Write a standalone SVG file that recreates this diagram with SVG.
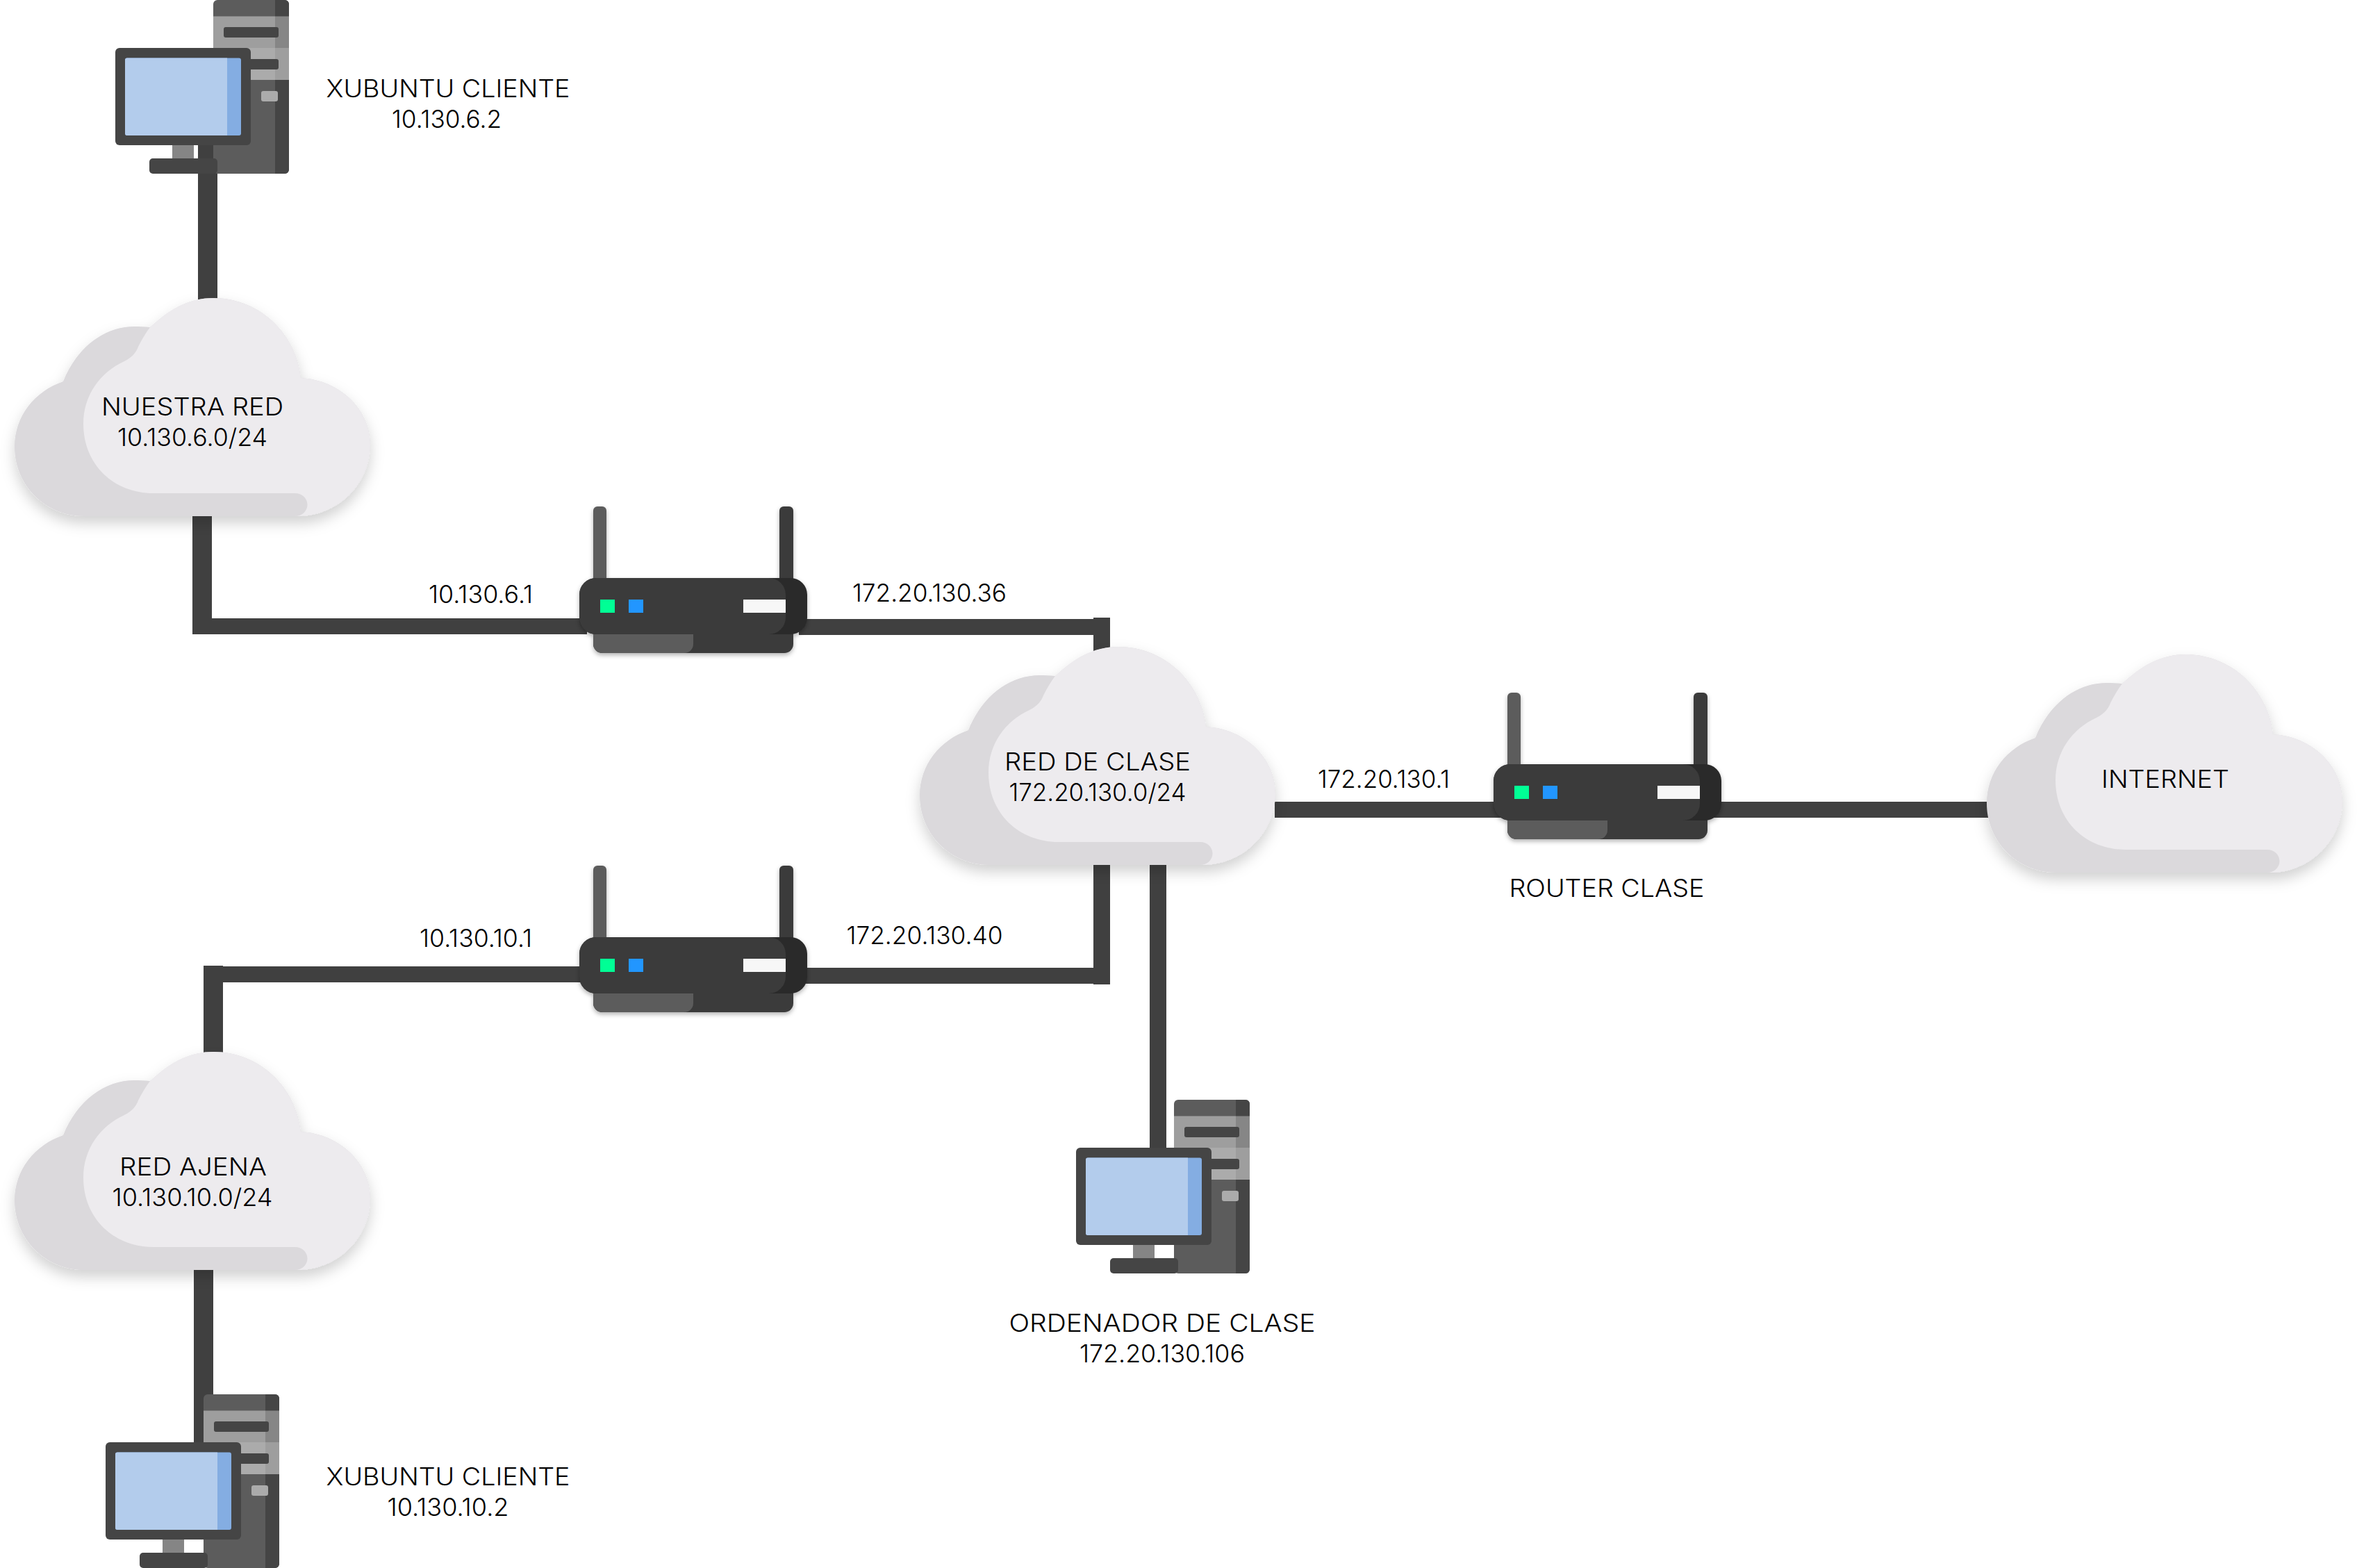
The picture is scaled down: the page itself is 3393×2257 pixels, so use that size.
<svg xmlns="http://www.w3.org/2000/svg" width="3393" height="2257" viewBox="0 0 3393 2257">
<style>
text{font-family:"Inter","Noto Sans","Liberation Sans",sans-serif;font-size:35px;font-weight:300;fill:#000;text-anchor:middle}
.ln{fill:#404040}
</style>
<defs>
<filter id="cs" x="-10%" y="-10%" width="120%" height="130%"><feDropShadow dx="0" dy="10" stdDeviation="10" flood-color="#000" flood-opacity=".18"/></filter>
<filter id="rs" x="-5%" y="-5%" width="110%" height="115%"><feDropShadow dx="0" dy="3" stdDeviation="3" flood-color="#000" flood-opacity=".3"/></filter>
<g id="cloud" filter="url(#cs)">
<path fill="#dbd9dc" d="M100,314 C45,314 0,270 0,214 C0,170 29,134 70,120 C90,70 130,41 172,41 C180,41 188,41 195,42 C222,18 250,0 286,0 C352,0 405,50 412,115 C468,118 512,160 512,211 C512,268 465,314 408,314 Z"/>
<path fill="#edebee" d="M195,42 C222,16 250,0 286,0 C352,0 405,50 412,115 C468,118 512,160 512,211 C512,268 465,314 408,314 H404 A17.5,16.500 0 0 0 404,281 H200 C143,281 99,240 99,181 C99,140 123,107 158,91 C170,85 175,78 178,70 C183,60 189,50 195,42 Z"/>
</g>
<g id="router" filter="url(#rs)">
<rect x="20" y="0" width="19" height="125" rx="6" fill="#5c5c5c"/>
<rect x="288" y="0" width="20" height="125" rx="6" fill="#3a3a3a"/>
<rect x="20" y="170" width="288" height="41" rx="13" fill="#3a3a3a"/>
<path fill="#5c5c5c" d="M20,170 H164 V198 A13,13 0 0 1 151,211 H33 A13,13 0 0 1 20,198 Z"/>
<rect x="0" y="103" width="328" height="81" rx="24" fill="#2a2a2a"/>
<rect x="0" y="103" width="297" height="81" rx="24" fill="#3a3a3a"/>
<rect x="30" y="134" width="21" height="19" fill="#00ff95"/>
<rect x="71" y="134" width="21" height="19" fill="#2196ff"/>
<rect x="236" y="134" width="61" height="19" fill="#f7f7f7"/>
</g>
<g id="pc">
<rect x="141" y="0" width="109" height="250" rx="6" fill="#5c5c5c"/>
<path fill="#454545" d="M230,0 H244 A6,6 0 0 1 250,6 V244 A6,6 0 0 1 244,250 H230 Z"/>
<rect x="141" y="23.500" width="89" height="46" fill="#9e9e9e"/>
<rect x="230" y="23.500" width="20" height="46" fill="#868686"/>
<rect x="141" y="69" width="89" height="46" fill="#ababab"/>
<rect x="230" y="69" width="20" height="46" fill="#9e9e9e"/>
<rect x="156" y="39" width="79" height="15" rx="3" fill="#454545"/>
<rect x="156" y="85" width="79" height="15" rx="3" fill="#454545"/>
<rect x="210" y="131" width="24" height="15" rx="3" fill="#ababab"/>
<rect x="82" y="205" width="31" height="26" fill="#858585"/>
<rect x="49" y="228" width="98" height="22" rx="5" fill="#454545"/>
<rect x="0" y="69" width="195" height="140" rx="6" fill="#454545"/>
<rect x="14" y="83.500" width="167" height="111.500" rx="3" fill="#84ade2"/>
<path fill="#b3ccec" d="M17,83.500 H161 V195 H17 A3,3 0 0 1 14,192 V86.500 A3,3 0 0 1 17,83.500 Z"/>
</g>
</defs>
<rect width="3393" height="2257" fill="#fff"/>
<g id="connectors" class="ln">
<rect x="285" y="200" width="28" height="250"/>
<rect x="277" y="740" width="28" height="173"/>
<rect x="305" y="890" width="540" height="23"/>
<rect x="1150" y="891" width="448" height="23"/>
<rect x="1574" y="889" width="24" height="60"/>
<rect x="1574" y="1235" width="24" height="182"/>
<rect x="1150" y="1393" width="448" height="23"/>
<rect x="1655" y="1235" width="24" height="425"/>
<rect x="293" y="1390" width="28" height="135"/>
<rect x="321" y="1391" width="525" height="23"/>
<rect x="279" y="1820" width="28" height="260"/>
<rect x="1835" y="1154" width="1035" height="23"/>
</g>
<g id="pc-xubuntu-1"><use href="#pc" x="166" y="0"/><text x="645" y="140" textLength="351" lengthAdjust="spacingAndGlyphs">XUBUNTU CLIENTE</text><text x="643" y="184" textLength="158" lengthAdjust="spacingAndGlyphs">10.130.6.2</text></g>
<g id="cloud-nuestra"><use href="#cloud" x="21" y="429"/><text x="277" y="598" textLength="262" lengthAdjust="spacingAndGlyphs">NUESTRA RED</text><text x="277" y="642" textLength="216" lengthAdjust="spacingAndGlyphs">10.130.6.0/24</text></g>
<g id="router-1"><use href="#router" x="834" y="729"/><text x="692" y="868" textLength="150" lengthAdjust="spacingAndGlyphs">10.130.6.1</text><text x="1338" y="866" textLength="222" lengthAdjust="spacingAndGlyphs">172.20.130.36</text></g>
<g id="cloud-clase"><use href="#cloud" x="1324" y="931"/><text x="1580" y="1109" textLength="268" lengthAdjust="spacingAndGlyphs">RED DE CLASE</text><text x="1580" y="1153" textLength="255" lengthAdjust="spacingAndGlyphs">172.20.130.0/24</text></g>
<g id="router-clase"><use href="#router" x="2150" y="997"/><text x="1992" y="1134" textLength="190" lengthAdjust="spacingAndGlyphs">172.20.130.1</text><text x="2313" y="1291" textLength="281" lengthAdjust="spacingAndGlyphs">ROUTER CLASE</text></g>
<g id="cloud-internet"><use href="#cloud" x="2860" y="942"/><text x="3117" y="1134" textLength="184" lengthAdjust="spacingAndGlyphs">INTERNET</text></g>
<g id="router-2"><use href="#router" x="834" y="1246"/><text x="685" y="1363" textLength="162" lengthAdjust="spacingAndGlyphs">10.130.10.1</text><text x="1331" y="1359" textLength="225" lengthAdjust="spacingAndGlyphs">172.20.130.40</text></g>
<g id="cloud-ajena"><use href="#cloud" x="21" y="1514"/><text x="278" y="1692" textLength="212" lengthAdjust="spacingAndGlyphs">RED AJENA</text><text x="277" y="1736" textLength="231" lengthAdjust="spacingAndGlyphs">10.130.10.0/24</text></g>
<g id="pc-clase"><use href="#pc" x="1549" y="1583"/><text x="1673" y="1917" textLength="441" lengthAdjust="spacingAndGlyphs">ORDENADOR DE CLASE</text><text x="1673" y="1961" textLength="238" lengthAdjust="spacingAndGlyphs">172.20.130.106</text></g>
<g id="pc-xubuntu-2"><use href="#pc" x="152" y="2007"/><text x="645" y="2138" textLength="351" lengthAdjust="spacingAndGlyphs">XUBUNTU CLIENTE</text><text x="645" y="2182" textLength="175" lengthAdjust="spacingAndGlyphs">10.130.10.2</text></g>
</svg>
